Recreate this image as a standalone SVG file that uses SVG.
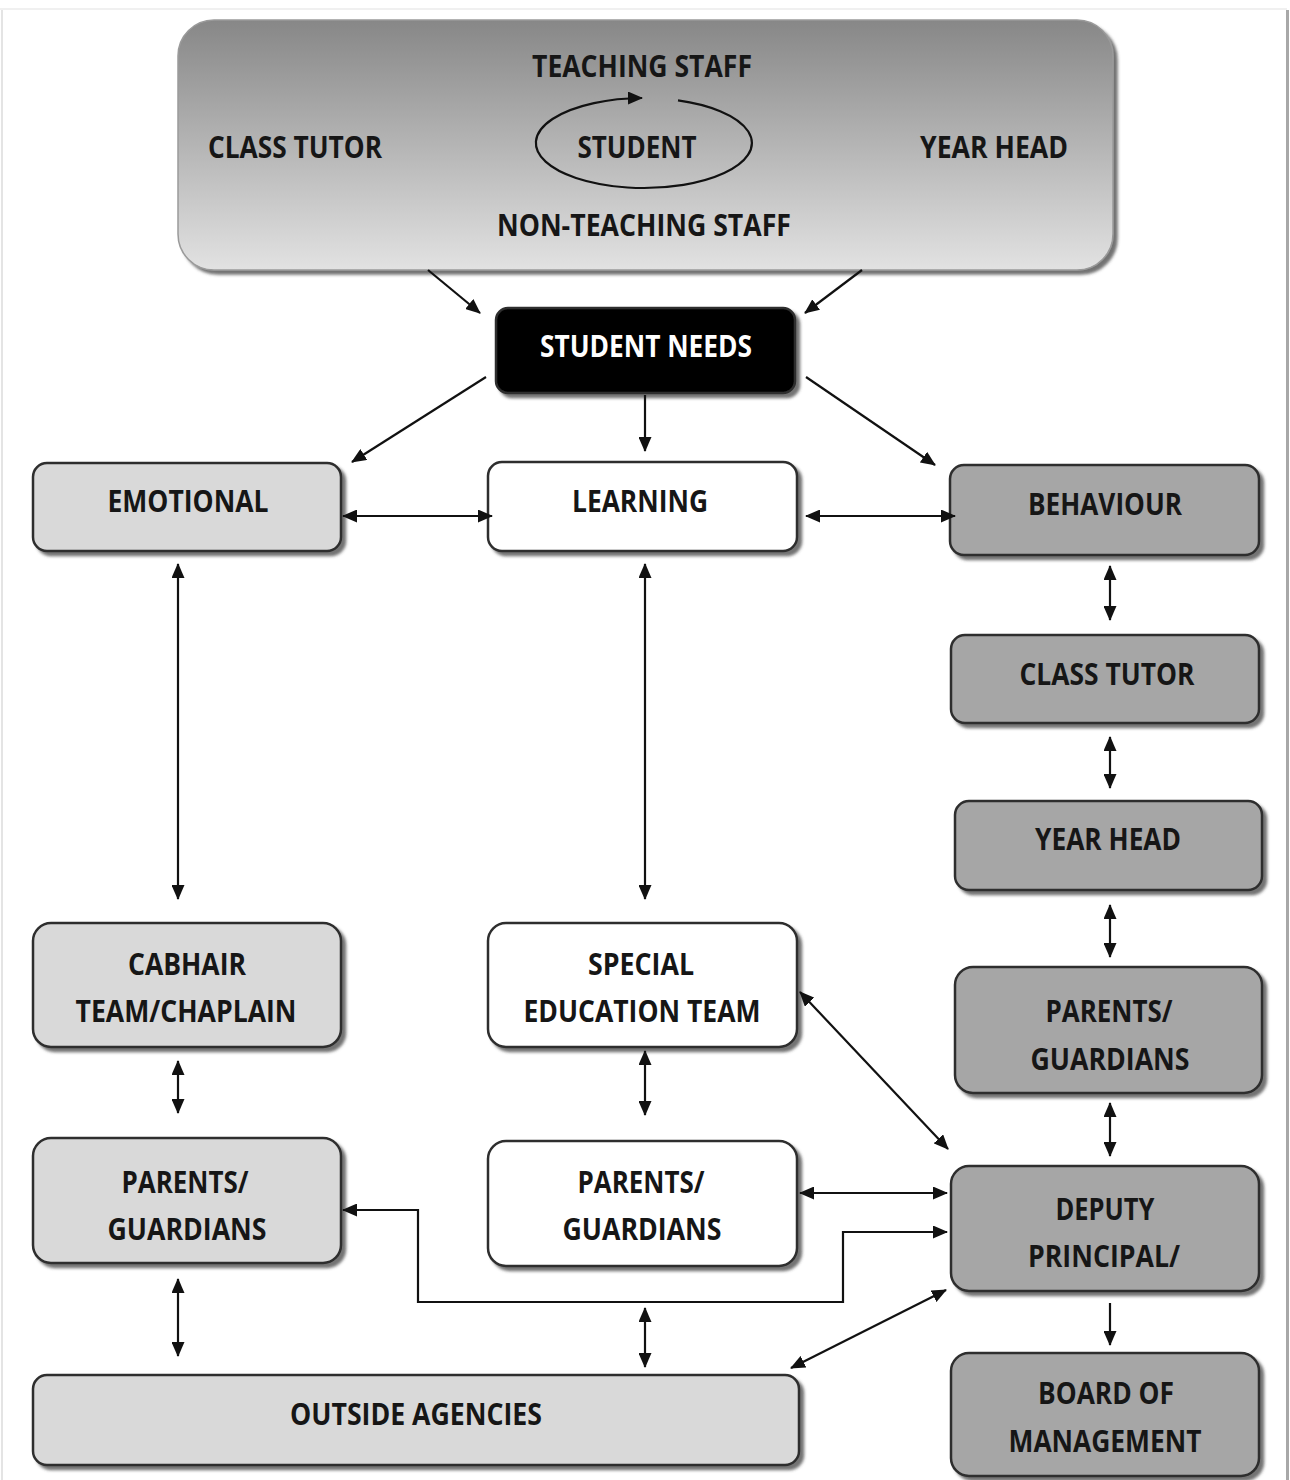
<svg xmlns="http://www.w3.org/2000/svg" width="1290" height="1480" viewBox="0 0 1290 1480">
<style>
.t{font-family:"Open Sans","DejaVu Sans Condensed","Liberation Sans",sans-serif;font-weight:700;font-size:31px;fill:#161616;text-anchor:middle}
.w{fill:#ffffff}
.box{stroke:#2e2e2e;stroke-width:2.5;filter:url(#sh)}
.lt{fill:#d9d9d9}
.wh{fill:#ffffff}
.dk{fill:#a6a6a6}
.c{fill:none;stroke:#111;stroke-width:2.2}
</style>
<defs>
<linearGradient id="gtop" x1="0" y1="0" x2="0" y2="1">
<stop offset="0" stop-color="#878787"/>
<stop offset="1" stop-color="#e2e2e2"/>
</linearGradient>
<filter id="sh" x="-5%" y="-5%" width="115%" height="125%">
<feDropShadow dx="4" dy="4" stdDeviation="1.6" flood-color="#444" flood-opacity="0.75"/>
</filter>
<marker id="ah" markerUnits="userSpaceOnUse" markerWidth="15" markerHeight="13" refX="14" refY="6.5" orient="auto-start-reverse" viewBox="0 0 15 13">
<path d="M0,0 L15,6.5 L0,13 z" fill="#111"/>
</marker>
</defs>
<rect width="1290" height="1480" fill="#fff"/>
<line x1="2" y1="8" x2="2" y2="1480" stroke="#e4e4e4" stroke-width="2"/>
<line x1="0" y1="9" x2="1287" y2="9" stroke="#f0f0f0" stroke-width="2"/>
<line x1="1287.5" y1="10" x2="1287.5" y2="1480" stroke="#a8a8a8" stroke-width="3"/>

<g id="top-box">
<rect x="178" y="20" width="935" height="250" rx="36" fill="url(#gtop)" stroke="#9a9a9a" stroke-width="1.5" filter="url(#sh)"/>
<text class="t" x="642" y="77" textLength="220" lengthAdjust="spacingAndGlyphs">TEACHING STAFF</text>
<text class="t" x="295" y="158" textLength="174" lengthAdjust="spacingAndGlyphs">CLASS TUTOR</text>
<text class="t" x="637" y="158" textLength="119" lengthAdjust="spacingAndGlyphs">STUDENT</text>
<text class="t" x="994" y="158" textLength="148" lengthAdjust="spacingAndGlyphs">YEAR HEAD</text>
<text class="t" x="644" y="236" textLength="294" lengthAdjust="spacingAndGlyphs">NON-TEACHING STAFF</text>
<path class="c" stroke-width="2" d="M678,100.3 A108,45 0 1,1 642,98" marker-end="url(#ah)"/>
</g>

<g id="student-needs">
<rect class="box" x="496" y="308" width="299" height="85" rx="12" fill="#000"/>
<text class="t w" x="646" y="357" textLength="212" lengthAdjust="spacingAndGlyphs">STUDENT NEEDS</text>
</g>

<g id="emotional">
<rect class="box lt" x="33" y="463" width="308" height="88" rx="14"/>
<text class="t" x="188" y="512" textLength="161" lengthAdjust="spacingAndGlyphs">EMOTIONAL</text>
</g>
<g id="learning">
<rect class="box wh" x="488" y="462" width="309" height="89" rx="14"/>
<text class="t" x="640" y="512" textLength="136" lengthAdjust="spacingAndGlyphs">LEARNING</text>
</g>
<g id="behaviour">
<rect class="box dk" x="950" y="465" width="309" height="90" rx="14"/>
<text class="t" x="1105" y="515" textLength="154" lengthAdjust="spacingAndGlyphs">BEHAVIOUR</text>
</g>
<g id="class-tutor">
<rect class="box dk" x="951" y="635" width="308" height="88" rx="14"/>
<text class="t" x="1107" y="685" textLength="175" lengthAdjust="spacingAndGlyphs">CLASS TUTOR</text>
</g>
<g id="year-head">
<rect class="box dk" x="955" y="801" width="307" height="89" rx="14"/>
<text class="t" x="1108" y="850" textLength="146" lengthAdjust="spacingAndGlyphs">YEAR HEAD</text>
</g>
<g id="parents-right">
<rect class="box dk" x="955" y="967" width="307" height="126" rx="18"/>
<text class="t" x="1109" y="1022" textLength="127" lengthAdjust="spacingAndGlyphs">PARENTS/</text>
<text class="t" x="1110" y="1070" textLength="159" lengthAdjust="spacingAndGlyphs">GUARDIANS</text>
</g>
<g id="deputy-principal">
<rect class="box dk" x="951" y="1166" width="308" height="125" rx="18"/>
<text class="t" x="1105" y="1220" textLength="99" lengthAdjust="spacingAndGlyphs">DEPUTY</text>
<text class="t" x="1104" y="1267" textLength="152" lengthAdjust="spacingAndGlyphs">PRINCIPAL/</text>
</g>
<g id="board-of-management">
<rect class="box dk" x="951" y="1353" width="308" height="123" rx="18"/>
<text class="t" x="1106" y="1404" textLength="136" lengthAdjust="spacingAndGlyphs">BOARD OF</text>
<text class="t" x="1105" y="1452" textLength="193" lengthAdjust="spacingAndGlyphs">MANAGEMENT</text>
</g>
<g id="cabhair">
<rect class="box lt" x="33" y="923" width="308" height="124" rx="18"/>
<text class="t" x="187" y="975" textLength="118" lengthAdjust="spacingAndGlyphs">CABHAIR</text>
<text class="t" x="186" y="1022" textLength="221" lengthAdjust="spacingAndGlyphs">TEAM/CHAPLAIN</text>
</g>
<g id="parents-left">
<rect class="box lt" x="33" y="1138" width="308" height="125" rx="18"/>
<text class="t" x="185" y="1193" textLength="127" lengthAdjust="spacingAndGlyphs">PARENTS/</text>
<text class="t" x="187" y="1240" textLength="159" lengthAdjust="spacingAndGlyphs">GUARDIANS</text>
</g>
<g id="special-education">
<rect class="box wh" x="488" y="923" width="309" height="124" rx="18"/>
<text class="t" x="641" y="975" textLength="106" lengthAdjust="spacingAndGlyphs">SPECIAL</text>
<text class="t" x="642" y="1022" textLength="237" lengthAdjust="spacingAndGlyphs">EDUCATION TEAM</text>
</g>
<g id="parents-middle">
<rect class="box wh" x="488" y="1141" width="309" height="125" rx="18"/>
<text class="t" x="641" y="1193" textLength="127" lengthAdjust="spacingAndGlyphs">PARENTS/</text>
<text class="t" x="642" y="1240" textLength="159" lengthAdjust="spacingAndGlyphs">GUARDIANS</text>
</g>
<g id="outside-agencies">
<rect class="box lt" x="33" y="1375" width="766" height="90" rx="14"/>
<text class="t" x="416" y="1425" textLength="252" lengthAdjust="spacingAndGlyphs">OUTSIDE AGENCIES</text>
</g>

<g id="connectors">
<line class="c" x1="428" y1="270" x2="480" y2="313" marker-end="url(#ah)"/>
<line class="c" x1="862" y1="270" x2="805" y2="313" marker-end="url(#ah)"/>
<line class="c" x1="486" y1="377" x2="352" y2="462" marker-end="url(#ah)"/>
<line class="c" x1="645" y1="395" x2="645" y2="451" marker-end="url(#ah)"/>
<line class="c" x1="806" y1="377" x2="935" y2="465" marker-end="url(#ah)"/>
<line class="c" x1="343" y1="516" x2="492" y2="516" marker-start="url(#ah)" marker-end="url(#ah)"/>
<line class="c" x1="806" y1="516" x2="955" y2="516" marker-start="url(#ah)" marker-end="url(#ah)"/>
<line class="c" x1="178" y1="564" x2="178" y2="899" marker-start="url(#ah)" marker-end="url(#ah)"/>
<line class="c" x1="645" y1="564" x2="645" y2="899" marker-start="url(#ah)" marker-end="url(#ah)"/>
<line class="c" x1="1110" y1="566" x2="1110" y2="620" marker-start="url(#ah)" marker-end="url(#ah)"/>
<line class="c" x1="1110" y1="737" x2="1110" y2="788" marker-start="url(#ah)" marker-end="url(#ah)"/>
<line class="c" x1="1110" y1="905" x2="1110" y2="957" marker-start="url(#ah)" marker-end="url(#ah)"/>
<line class="c" x1="1110" y1="1103" x2="1110" y2="1156" marker-start="url(#ah)" marker-end="url(#ah)"/>
<line class="c" x1="1110" y1="1303" x2="1110" y2="1345" marker-end="url(#ah)"/>
<line class="c" x1="178" y1="1061" x2="178" y2="1113" marker-start="url(#ah)" marker-end="url(#ah)"/>
<line class="c" x1="645" y1="1051" x2="645" y2="1115" marker-start="url(#ah)" marker-end="url(#ah)"/>
<line class="c" x1="178" y1="1279" x2="178" y2="1356" marker-start="url(#ah)" marker-end="url(#ah)"/>
<line class="c" x1="800" y1="992" x2="948" y2="1149" marker-start="url(#ah)" marker-end="url(#ah)"/>
<line class="c" x1="800" y1="1193" x2="947" y2="1193" marker-start="url(#ah)" marker-end="url(#ah)"/>
<polyline class="c" points="343,1210 418,1210 418,1302 843,1302 843,1232 947,1232" marker-start="url(#ah)" marker-end="url(#ah)"/>
<line class="c" x1="645" y1="1308" x2="645" y2="1367" marker-start="url(#ah)" marker-end="url(#ah)"/>
<line class="c" x1="791" y1="1368" x2="946" y2="1290" marker-start="url(#ah)" marker-end="url(#ah)"/>
</g>
</svg>
